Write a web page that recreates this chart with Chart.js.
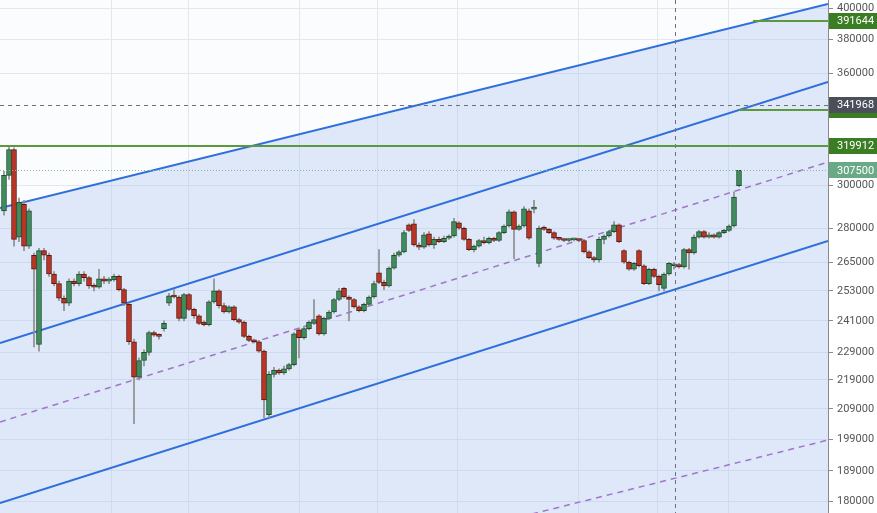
<!DOCTYPE html>
<html>
<head>
<meta charset="utf-8">
<script src="https://cdn.jsdelivr.net/npm/chart.js@4.4.1/dist/chart.umd.min.js"></script>
<style>
    html, body { margin: 0; padding: 0; background: #ffffff; }
    #wadah { width: 877px; height: 513px; }
</style>
</head>
<body>
<div id="wadah"><canvas id="grafikHarga" width="877" height="513"></canvas></div>
<script>
// harga dalam ribuan, satu candle per indeks
const opens = [288, 305, 318, 276, 291, 272, 268, 232, 270, 268, 260, 256, 250, 248, 257, 256, 260, 258.5, 255, 254.5,
    258, 257, 257.5, 259, 253.5, 247.5, 233, 220, 226, 229, 236.5, 235.5, 238, 248, 251, 250.5, 242, 251.5, 245.5, 243,
    240.5, 239.5, 248.5, 253, 247, 244.5, 246.5, 241.5, 240.5, 235, 233.5, 233, 229.5, 207, 221, 222.5, 221.5, 223, 224.5, 237.5,
    234.5, 238, 240, 243, 236, 242, 244.5, 249.5, 254, 250.5, 249.5, 246.5, 245, 247.5, 250.5, 260.5, 256.5, 255, 262.5, 268,
    269.5, 281.5, 282, 272.5, 271.5, 277.5, 272.5, 275, 274, 275.5, 276.5, 282.5, 280, 275, 270.5, 272, 274.5, 273.5, 275.5, 274.5,
    278, 281, 287.5, 279.5, 281, 288, 288.8, 264.5, 280, 279.5, 278, 275.5, 275, 274.5, 274.8, 275, 274.5, 269.5, 267, 266,
    275, 276.5, 278.5, 281.5, 270, 265, 262, 270, 263.5, 256, 262, 259, 254, 260, 263.5, 264, 263, 270.5, 269, 276,
    278.5, 276, 277, 276, 278, 279, 281, 300];
const highs = [307, 320, 319, 294, 293, 289, 269, 271, 271, 269, 261, 257, 251, 258, 258, 261, 261, 259, 256, 262,
    259, 258.5, 260, 259.5, 254, 248, 234, 227, 230, 237, 237, 236, 241, 252, 253.5, 251, 252, 252, 246, 243.5,
    241, 249, 258, 253.5, 248, 247, 247, 242, 241, 235.5, 234, 233.5, 230, 222, 223.5, 223, 224, 225, 236.5, 238,
    239, 241, 249.5, 243.5, 242.5, 245, 250, 254, 254.5, 251, 250, 247, 248, 251, 257, 270.5, 257.5, 263, 269, 270,
    279, 282, 284, 273.5, 278, 278.5, 276, 276, 276.5, 277, 284.5, 283, 280.5, 275.5, 272.5, 275, 276, 276, 276, 278.5,
    281.5, 288.5, 288, 281.5, 290, 289, 293, 281, 281, 280, 278.5, 276, 275.5, 275.5, 275.5, 275.5, 275, 270, 267.5, 276,
    277, 279, 283, 282, 270.5, 265.5, 265, 270.5, 264, 262.5, 262.5, 259.5, 260.5, 265, 265, 264.5, 271, 271, 277, 279,
    279, 278, 277.5, 278.5, 279.5, 281.5, 297, 307.5];
const lows = [286, 303, 272, 274, 270, 271, 231, 229.5, 266, 259, 255, 249, 245, 247, 255, 255, 257, 254, 253, 254,
    256, 256, 257, 253, 247, 232, 204, 219, 224, 228, 235, 234, 237, 247, 250, 241, 241, 245, 242, 239.5,
    239, 239, 248, 246, 244, 244, 241, 240, 234.5, 233, 232.5, 229, 206, 206, 220, 221, 221, 222.5, 224, 227,
    234, 237.5, 239.5, 235.5, 235.5, 241.5, 244, 249, 250, 241, 246, 244.5, 244.5, 247, 250, 256, 253.5, 254.5, 262, 267.5,
    269, 278.5, 272, 270.5, 271, 272, 271, 273.5, 273.5, 275, 276, 279.5, 274.5, 270, 269.5, 271.5, 273, 273, 274, 274,
    277.5, 280.5, 266.5, 279, 280.5, 275, 287, 263, 279, 277.5, 275, 274.5, 274, 274, 274.3, 274, 269, 266.5, 265, 265,
    273, 276, 278, 273.5, 264.5, 261.5, 261.5, 263, 255.5, 255.5, 258.5, 253, 253, 259.5, 262, 262.5, 262.5, 262, 268.5, 275.5,
    275.5, 275.5, 275.5, 275.5, 277.5, 278.5, 280.5, 299.5];
const closes = [305, 318, 275, 292, 272, 288, 262, 270, 268, 260, 256, 250, 248, 257, 256, 260, 258.5, 255, 254.5, 258,
    257, 257.5, 259, 253.5, 248, 233, 220, 226, 229, 236.5, 235.5, 235, 240, 251, 250.5, 242, 251.5, 245.5, 243, 240,
    239.5, 248.5, 253, 247, 244.5, 246.5, 241.5, 240.5, 235, 233.5, 233, 229.5, 212, 221, 222.5, 221.5, 223, 224.5, 236, 234.5,
    238, 240.5, 241.5, 236, 242, 244.5, 249.5, 253, 250.5, 249.5, 246.5, 245, 247.5, 250.5, 256, 256.5, 255, 262.5, 268, 269.5,
    278, 279, 272.5, 271.5, 277, 272.5, 275, 274, 275.5, 276.5, 283, 280, 275, 270.5, 272, 274.5, 273.5, 275.5, 274.5, 278,
    281, 287.5, 279.5, 281, 289, 275.5, 289.2, 280, 279.5, 278, 275.5, 275, 274.5, 275, 275.2, 274.5, 269.5, 267, 266, 275,
    276.5, 278.5, 281.5, 274, 265, 262, 264.5, 263.5, 256, 262, 259, 255.5, 260, 264.5, 264.2, 263, 270.5, 269, 276, 278.5,
    276, 277, 276, 278, 279, 281, 294.5, 307.5];

const yTicks = [400000, 380000, 360000, 300000, 280000, 265000, 253000, 241000, 229000, 219000, 209000, 199000, 189000, 180000];
const xGrid = [21.6, 37, 59.2, 74.8, 90.8, 115, 130.6, 145];

// garis channel (indeks candle, harga)
const garisAtas = [{ x: -0.8, y: 289300 }, { x: 164.8, y: 402600 }];
const garisTengah = [{ x: -0.8, y: 232500 }, { x: 164.8, y: 354800 }];
const garisBawah = [{ x: -0.8, y: 179400 }, { x: 164.8, y: 274300 }];
const garisMedian = [{ x: -0.8, y: 204600 }, { x: 164.8, y: 311700 }];
const garisMedianBawah = [{ x: 99.2, y: 174000 }, { x: 164.8, y: 198700 }];

// level horizontal hijau: harga dan indeks awal
const levelHarga = [391644, 339100, 319912];
const levelMulai = [149.8, 147, -0.8];
const hargaTerakhir = 307500;
const crosshairX = 134.2;
const crosshairY = 341968;

const warnaNaik = '#3f8d5c', borderNaik = '#1f4d30';
const warnaTurun = '#bb3424', borderTurun = '#5a1a12';

let dataBody = [], dataSumbu = [], warnaBody = [], warnaBorder = [];
for (let i = 0; i < opens.length; i++) {
    dataBody.push({ x: i, y: [opens[i] * 1000, closes[i] * 1000] });
    dataSumbu.push({ x: i, y: [lows[i] * 1000, highs[i] * 1000] });
    let naik = closes[i] >= opens[i];
    warnaBody.push(naik ? warnaNaik : warnaTurun);
    warnaBorder.push(naik ? borderNaik : borderTurun);
}

function garis(data, warna, dash, isi) {
    return {
        type: 'line',
        data: data,
        borderColor: warna,
        borderWidth: dash ? 1.5 : 2,
        borderDash: dash || [],
        pointRadius: 0,
        fill: isi ? 'start' : false,
        backgroundColor: isi ? 'rgba(165, 192, 240, 0.33)' : 'transparent',
        order: 5
    };
}

const pluginLatar = {
    id: 'latar',
    beforeDraw(chart) {
        let ctx = chart.ctx, a = chart.chartArea;
        ctx.save();
        ctx.fillStyle = '#ffffff';
        ctx.fillRect(0, 0, chart.width, chart.height);
        ctx.fillStyle = '#fbfcfe';
        ctx.fillRect(a.left, a.top, a.right - a.left, a.bottom - a.top);
        ctx.restore();
    }
};

function kotakHarga(ctx, x, y, teks, warna) {
    ctx.fillStyle = warna;
    ctx.fillRect(x + 1, Math.round(y) - 8, 48, 16);
    ctx.fillStyle = '#ffffff';
    ctx.fillText(teks, x + 9, y + 0.5);
}

const pluginLevel = {
    id: 'level',
    afterDatasetsDraw(chart) {
        let ctx = chart.ctx, a = chart.chartArea;
        let sx = chart.scales.x, sy = chart.scales.y;
        ctx.save();
        ctx.beginPath();
        ctx.rect(a.left, a.top, a.right - a.left, a.bottom - a.top);
        ctx.clip();

        // harga terakhir (titik-titik)
        let yl = Math.round(sy.getPixelForValue(hargaTerakhir)) + 0.5;
        ctx.strokeStyle = '#86b99c';
        ctx.lineWidth = 1;
        ctx.setLineDash([1, 2]);
        ctx.beginPath();
        ctx.moveTo(a.left, yl);
        ctx.lineTo(a.right, yl);
        ctx.stroke();

        // crosshair
        ctx.strokeStyle = '#6c707a';
        ctx.setLineDash([4, 4]);
        let cx = Math.round(sx.getPixelForValue(crosshairX)) + 0.5;
        let cy = Math.round(sy.getPixelForValue(crosshairY)) + 0.5;
        ctx.beginPath();
        ctx.moveTo(cx, a.top);
        ctx.lineTo(cx, a.bottom);
        ctx.moveTo(a.left, cy);
        ctx.lineTo(a.right, cy);
        ctx.stroke();

        // level hijau
        ctx.setLineDash([]);
        ctx.strokeStyle = '#5a9a3c';
        ctx.lineWidth = 2;
        for (let i = 0; i < levelHarga.length; i++) {
            let y = sy.getPixelForValue(levelHarga[i]);
            ctx.beginPath();
            ctx.moveTo(sx.getPixelForValue(levelMulai[i]), y);
            ctx.lineTo(a.right, y);
            ctx.stroke();
        }
        ctx.restore();
    },
    afterDraw(chart) {
        let ctx = chart.ctx, a = chart.chartArea;
        let sy = chart.scales.y;
        ctx.save();
        ctx.font = '11px Roboto';
        ctx.textBaseline = 'middle';
        ctx.textAlign = 'left';
        for (let i = 0; i < levelHarga.length; i++) {
            kotakHarga(ctx, a.right, sy.getPixelForValue(levelHarga[i]), String(levelHarga[i]), '#3a7d22');
        }
        kotakHarga(ctx, a.right, sy.getPixelForValue(hargaTerakhir), String(hargaTerakhir), '#6aa985');
        kotakHarga(ctx, a.right, sy.getPixelForValue(crosshairY), String(crosshairY), '#4b4f5a');
        ctx.restore();
    }
};

new Chart(document.getElementById('grafikHarga'), {
    type: 'bar',
    data: {
        datasets: [
            garis(garisAtas, '#2f6fdc', null, true),
            garis(garisTengah, '#2f6fdc', null, false),
            garis(garisBawah, '#2f6fdc', null, false),
            garis(garisMedian, '#a175c9', [6, 5], false),
            garis(garisMedianBawah, '#a175c9', [6, 5], false),
            {
                data: dataSumbu,
                backgroundColor: '#8e8e8e',
                barThickness: 1,
                grouped: false,
                order: 2
            },
            {
                data: dataBody,
                backgroundColor: warnaBody,
                borderColor: warnaBorder,
                borderWidth: 1,
                borderSkipped: false,
                barThickness: 5,
                minBarLength: 2,
                grouped: false,
                order: 1
            }
        ]
    },
    options: {
        responsive: false,
        devicePixelRatio: 1,
        animation: false,
        layout: { padding: 0 },
        plugins: {
            legend: { display: false },
            tooltip: { enabled: false },
            filler: { drawTime: 'beforeDatasetsDraw' }
        },
        scales: {
            x: {
                type: 'linear',
                min: -0.8,
                max: 164.8,
                offset: false,
                grid: { color: '#e3e8f0', drawTicks: false, offset: false },
                border: { display: false },
                ticks: { display: false },
                afterBuildTicks: function (s) {
                    s.ticks = xGrid.map(v => ({ value: v }));
                },
                afterFit: function (s) {
                    s.height = 0;
                    s.paddingLeft = 0;
                    s.paddingRight = 0;
                }
            },
            y: {
                type: 'logarithmic',
                position: 'right',
                min: 176556,
                max: 405216,
                grid: { color: '#e3e8f0', tickColor: '#8a8a8a', tickLength: 5 },
                border: { display: true, color: '#8a8a8a' },
                ticks: {
                    autoSkip: false,
                    padding: 4,
                    color: '#555555',
                    font: { family: 'Roboto', size: 11 },
                    callback: function (value) {
                        return String(value);
                    }
                },
                afterBuildTicks: function (s) {
                    s.ticks = yTicks.map(v => ({ value: v }));
                },
                afterFit: function (s) {
                    s.width = 49;
                    s.paddingTop = 0;
                    s.paddingBottom = 0;
                }
            }
        }
    },
    plugins: [pluginLatar, pluginLevel]
});
</script>
</body>
</html>
